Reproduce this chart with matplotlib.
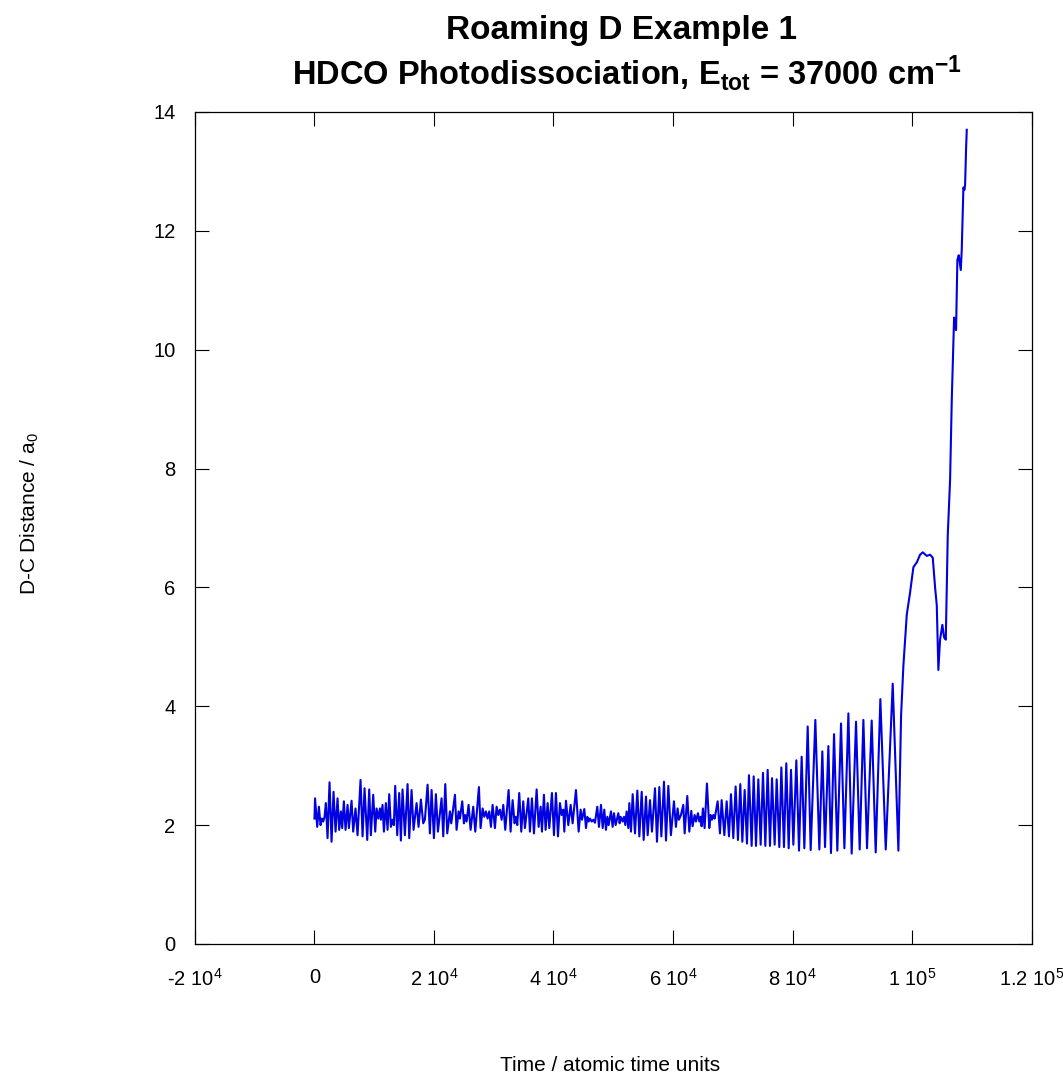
"""D-C distance along a roaming-D trajectory (HDCO photodissociation).
Values read off the reference plot, turning points of the oscillation only.
"""
import numpy as np
import matplotlib
matplotlib.use("Agg")
import matplotlib.pyplot as plt

plt.rcParams["font.family"] = ["Liberation Sans", "DejaVu Sans"]
plt.rcParams["mathtext.fontset"] = "custom"
plt.rcParams["mathtext.rm"] = "Liberation Sans"
plt.rcParams["mathtext.it"] = "Liberation Sans"
plt.rcParams["mathtext.bf"] = "Liberation Sans:bold"

# --- data: time (atomic units) and D-C distance (bohr) -----------------------
t_early = [
    0, 100, 460, 740, 1020, 1240, 1460, 1690, 1910, 2190,
    2520, 2860, 3190, 3530, 3860, 4140, 4420, 4640, 4920, 5200,
    5540, 5760, 6210, 6480, 6870, 7210, 7710, 8050, 8380, 8830,
    9160, 9440, 9830, 10170, 10390, 10670, 10950, 11110, 11390, 11620,
    11950, 12230, 12510, 12790, 13070, 13290, 13510, 13850, 14180, 14460,
    14740, 15130, 15580, 15860, 16250, 16580, 17090, 17420, 17810, 18200,
    18480, 18930, 19320, 19600, 19990,
    20320, 20660, 21270, 21550, 21890, 22220, 22670, 22890, 23510, 23780,
    24120, 24340, 24730, 25010, 25230, 25460, 25790, 26130, 26570, 26910,
    27520, 27800, 28140, 28420, 28690, 28970, 29250, 29530, 29810, 30200,
    30480, 30760, 31040, 31320, 31600, 31930, 32490, 32820, 33160, 33490,
    33720, 33940, 34270, 34610, 34940, 35220, 35780, 36060, 36390, 36730,
    37180, 37510, 37850, 38070, 38400, 38680, 39020, 39300, 39740, 40080,
]
d_early = [
    2.11, 2.45, 1.97, 2.31, 2.00, 2.11, 2.06, 2.14, 2.37, 1.78,
    2.72, 1.72, 2.56, 1.89, 2.45, 1.92, 2.23, 1.95, 2.40, 1.92,
    2.34, 1.95, 2.41, 1.89, 2.28, 1.83, 2.76, 1.81, 2.62, 1.75,
    2.60, 1.83, 2.51, 1.89, 2.28, 2.11, 2.28, 2.09, 2.34, 1.89,
    2.37, 1.92, 2.52, 1.97, 2.09, 2.00, 2.66, 1.83, 2.54, 1.74,
    2.60, 1.83, 2.69, 1.78, 2.59, 1.92, 2.37, 1.97, 2.43, 2.03,
    2.09, 2.68, 1.86, 2.59, 1.78,
    2.52, 1.89, 2.45, 1.81, 2.69, 1.86, 2.23, 2.03, 2.51, 1.92,
    2.23, 2.11, 2.40, 2.03, 2.17, 2.06, 2.34, 1.92, 2.31, 1.89,
    2.64, 1.95, 2.28, 2.14, 2.23, 2.11, 2.23, 1.97, 2.34, 1.95,
    2.31, 2.17, 2.26, 2.09, 2.34, 1.92, 2.59, 1.89, 2.42, 2.03,
    2.14, 2.00, 2.54, 1.89, 2.40, 1.95, 2.45, 1.89, 2.45, 1.86,
    2.60, 1.97, 2.31, 1.89, 2.51, 1.92, 2.37, 1.95, 2.54, 1.83,
]

t_mid = [
    40410, 40750, 41080, 41360, 41640, 41810, 42090, 42480, 42870, 43200,
    43760, 44210, 44540, 44770, 45160, 45440, 45660, 45880, 46110, 46390,
    46670, 46940, 47330, 47610, 47950, 48230, 48500, 48780, 49010, 49230,
    49620, 49900, 50120, 50400, 50850, 51070, 51240, 51570, 51800, 52020,
    52240, 52520, 52690, 52970, 53250, 53640, 54030, 54370, 54760, 55090,
    55480, 55760, 56150, 56480, 56990, 57320, 57710, 58050, 58490, 58830,
    59220,
    59650, 60160, 60490, 60770, 60990, 61330, 61720, 61950, 62390, 62730,
    63060, 63280, 63620, 63840, 64180, 64400, 64620, 64790, 65010, 65290,
    65680, 66070, 66300, 66520, 66740, 66970, 67470, 67860, 68140, 68590,
    68980, 69370, 69700, 70090, 70480, 70870, 71260, 71600, 71990, 72380,
    72710, 73160, 73500, 73890, 74280, 74670, 75060, 75450, 75840, 76230,
    76570, 77010, 77350, 77790, 78130, 78570, 78960, 79360, 79750,
]
d_mid = [
    2.54, 1.81, 2.37, 2.17, 2.26, 1.89, 2.41, 2.00, 2.34, 2.03,
    2.59, 1.89, 2.26, 2.09, 2.27, 1.95, 2.14, 2.06, 2.11, 2.06,
    2.09, 2.04, 2.31, 1.97, 2.34, 1.95, 2.26, 1.92, 2.14, 2.00,
    2.23, 1.97, 2.20, 2.00, 2.20, 2.03, 2.14, 2.06, 2.14, 2.00,
    2.23, 1.95, 2.37, 1.89, 2.52, 1.86, 2.58, 1.81, 2.56, 1.75,
    2.48, 1.83, 2.42, 1.89, 2.62, 1.72, 2.64, 1.81, 2.73, 1.74,
    2.66,
    1.83, 2.40, 1.97, 2.28, 2.09, 2.17, 2.34, 1.86, 2.49, 1.89,
    2.24, 1.98, 2.17, 2.06, 2.20, 2.06, 2.14, 1.98, 2.28, 1.95,
    2.70, 1.95, 2.17, 2.09, 2.17, 2.11, 2.40, 1.86, 2.42, 1.83,
    2.40, 1.81, 2.52, 1.78, 2.65, 1.75, 2.69, 1.72, 2.59, 1.69,
    2.84, 1.65, 2.82, 1.65, 2.77, 1.67, 2.88, 1.65, 2.93, 1.65,
    2.79, 1.67, 2.77, 1.63, 2.97, 1.63, 3.04, 1.61, 2.93,
]

t_late = [
    80140, 80640, 81090, 81530, 81980, 82540, 83040, 83820, 84490, 84990,
    85440, 86000, 86440, 86950, 87500, 88120, 88680, 89350, 89900, 90630,
    91240, 91860, 92470, 93250, 93920, 94700, 95600, 96770, 97720, 98170,
    98560, 99120, 99670, 100230, 100790, 101350, 101800, 102470, 103020, 103470,
    103860, 104140, 104410, 104690, 105080, 105360, 105650, 105980, 106370, 106650,
    107040, 107210, 107370, 107590, 107820, 108160, 108320, 108600, 108770, 108880,
    109040, 109160,
]
d_late = [
    1.67, 3.09, 1.57, 3.15, 1.61, 3.66, 1.58, 3.77, 1.59, 3.24,
    1.63, 3.33, 1.53, 3.53, 1.57, 3.71, 1.61, 3.88, 1.52, 3.74,
    1.59, 3.77, 1.61, 3.76, 1.54, 4.12, 1.59, 4.38, 1.57, 3.85,
    4.69, 5.54, 5.91, 6.34, 6.42, 6.55, 6.59, 6.53, 6.55, 6.50,
    6.00, 5.70, 4.61, 5.12, 5.37, 5.16, 5.12, 6.88, 7.81, 9.15,
    10.54, 10.37, 10.33, 11.51, 11.59, 11.34, 11.68, 12.73, 12.69, 12.77,
    13.36, 13.70,
]

x_ticks = [-2e4, 0, 2e4, 4e4, 6e4, 8e4, 1e5, 1.2e5]
x_ticklabels = [r"-2 10$^4$", "0", r"2 10$^4$", r"4 10$^4$", r"6 10$^4$",
                r"8 10$^4$", r"1 10$^5$", r"1.2 10$^5$"]
y_ticks = [0, 2, 4, 6, 8, 10, 12, 14]

t = np.array(t_early + t_mid + t_late, dtype=float)
d = np.array(d_early + d_mid + d_late)

# --- figure -------------------------------------------------------------------
fig = plt.figure(figsize=(10.63, 10.85), dpi=100)
ax = fig.add_axes([0.1834, 0.130, 0.7870, 0.7668])

ax.plot(t, d, color="#0000e0", lw=1.5, solid_joinstyle="round")

ax.set_xlim(-2e4, 1.2e5)
ax.set_ylim(0, 14)
ax.set_xticks(x_ticks)
ax.set_xticklabels(x_ticklabels)
ax.set_yticks(y_ticks)
ax.tick_params(direction="in", length=10, width=0.8, labelsize=14.5,
               top=True, right=True, colors="black")
ax.tick_params(axis="x", pad=17)
ax.tick_params(axis="y", pad=14)
for s in ax.spines.values():
    s.set_linewidth(0.9)

fig.text(0.585, 0.972, "Roaming D Example 1", ha="center", va="center",
         fontsize=24, fontweight="bold")
fig.text(0.59, 0.933,
         r"HDCO Photodissociation, E$_{\mathbf{tot}}$ = 37000 cm$^{\mathbf{-1}}$",
         ha="center", va="center", fontsize=23.5, fontweight="bold")
fig.text(0.574, 0.018, "Time / atomic time units", ha="center", va="center",
         fontsize=15)
fig.text(0.028, 0.527, r"D-C Distance / a$_0$", ha="center", va="center",
         rotation=90, fontsize=15)

fig.savefig("out.png", dpi=100)
